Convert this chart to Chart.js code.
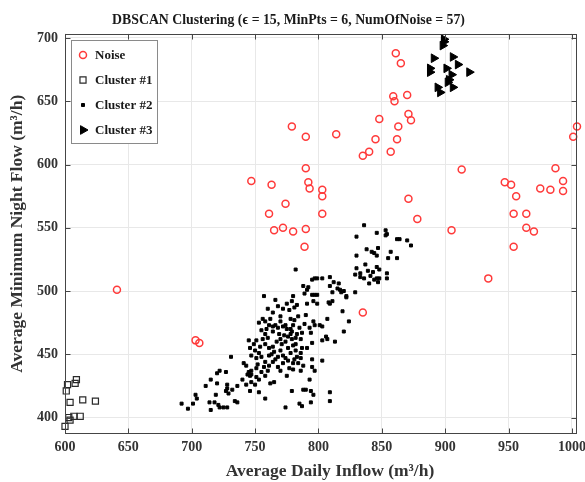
<!DOCTYPE html>
<html>
<head>
<meta charset="utf-8">
<script src="https://cdn.jsdelivr.net/npm/chart.js@4.4.1/dist/chart.umd.min.js"></script>
<style>
  html, body { margin: 0; padding: 0; background: #fff; }
</style>
</head>
<body>
<canvas id="chart" width="585" height="482"></canvas>
<script>
// --- data ---
const seriesNames = ['Noise', 'Cluster #1', 'Cluster #2', 'Cluster #3'];
const xTicks = [600, 650, 700, 750, 800, 850, 900, 950, 1000];
const yTicks = [400, 450, 500, 550, 600, 650, 700];
const xLabel = 'Average Daily Inflow (m³/h)';
const yLabel = 'Average Minimum Night Flow (m³/h)';

const noisePts = [
  [861,688],[865,680],[859,654],[860,650],[870,655],[848,636],[871,640],[873,635],[863,630],
  [779,630],[790,622],[814,624],[845,620],[862,620],[835,607],[840,610],[857,610],[790,597],
  [1004,630],[1001,622],[913,596],[987,597],
  [747,587],[763,584],[792,586],[793,581],[803,580],[803,575],[774,569],[761,561],[803,561],
  [765,548],[772,550],[780,547],[790,549],[789,535],[871,573],[878,557],[835,483],
  [947,586],[952,584],[956,575],[975,581],[983,580],[993,587],[993,579],[954,561],[964,561],
  [964,550],[970,547],[905,548],[954,535],[934,510],
  [641,501],[703,461],[706,459]
];

const cluster1Pts = [
  [609,430],[608,427],[602,426],[601,421],[604,412],[614,414],[624,413],
  [612,401],[607,401],[603,400],[604,398],[600,393]
];

const cluster2Pts = [
  // left tail
  [692,411],[697,407],[701,411],[703,418],[704,415],[711,425],[715,430],[720,435],[722,437],
  [727,436],[731,448],[720,427],[719,418],[714,412],[718,412],[715,406],[721,410],[722,408],
  [725,408],[728,408],[727,421],[728,426],[728,423],[729,419],[732,422],[736,425],[734,413],
  [736,412],[741,443],[743,441],[745,436],[744,434],[747,434],[746,421],[745,461],[746,455],
  // core
  [757,496],[766,493],[777,485],[764,483],[772,486],[756,478],[758,476],[761,473],[764,472],
  [766,473],[768,471],[772,472],[774,473],[775,470],[755,469],[758,466],[764,468],[769,466],
  [773,465],[776,464],[756,462],[751,461],[749,458],[750,453],[754,456],[758,458],[761,455],
  [764,456],[767,460],[771,458],[774,460],[776,455],[747,449],[751,447],[755,448],[761,449],
  [765,452],[768,448],[772,449],[776,445],[747,437],[751,439],[757,440],[761,441],[764,444],
  [768,440],[772,443],[777,439],[746,433],[751,432],[755,436],[758,433],[747,428],[750,426],
  [753,430],[762,427],[765,428],[774,408],
  [760,486],[768,488],[775,490],[781,487],[770,480],[762,478],[753,475],[778,478],[784,480],
  [770,476],[759,470],[780,473],[785,471],[760,463],[770,462],[778,466],[786,462],[753,451],
  [763,450],[770,453],[778,451],[782,458],[791,455],[758,444],[766,446],[774,447],[781,446],
  [752,442],[760,437],[770,437],[775,433],[740,430],[743,426],[753,420],[758,415],
  // upper right group
  [836,552],[846,546],[853,548],[854,545],[853,544],[830,543],[862,541],[864,541],[870,540],
  [873,536],[838,533],[842,531],[844,530],[847,534],[846,528],[830,528],[857,531],[855,526],
  [862,526],[837,521],[846,519],[848,517],[830,518],[829,513],[833,514],[839,516],[843,515],
  [836,510],[841,512],[840,506],[844,509],[846,510],[847,507],[848,510],[854,514],[854,510],
  [833,511],
  // middle
  [782,517],[799,510],[803,510],[809,511],[795,509],[797,510],[812,507],[816,506],[815,502],
  [817,501],[820,500],[818,499],[788,504],[792,503],[791,501],[809,504],[811,499],[789,498],
  [795,497],[797,497],[799,497],[780,496],[829,499],[822,496],[779,492],[783,489],[791,490],
  [796,492],[799,490],[808,491],[811,492],[809,490],[822,495],[819,484],[824,476],[820,468],
  [807,478],[790,481],[781,477],[789,474],[796,476],[797,473],[801,473],[803,472],[793,471],
  [794,467],[778,470],[779,468],[783,466],[787,467],[779,462],[782,463],[795,459],[803,461],
  [807,462],[813,460],[806,464],[780,457],[782,453],[787,455],[786,451],[783,448],[786,447],
  [795,446],[803,445],[780,443],[784,443],[788,441],[795,440],[797,437],[780,438],[786,437],
  [793,430],[788,422],[790,422],[779,421],[794,421],[796,418],[809,420],[809,413],[785,411],
  [787,409],[794,412]
];

const cluster3Pts = [
  [899,699],[899,697],[898,694],[891,684],[906,685],[910,679],[888,676],[888,673],[901,676],
  [919,673],[905,671],[903,667],[902,665],[894,661],[896,657],[906,661]
];

const toXY = pts => pts.map(p => ({ x: p[0], y: p[1] }));
const SERIF = "'Liberation Serif', 'Times New Roman', serif";

// --- caja, marcas hacia dentro, etiqueta X y leyenda dentro del area ---
const boxPlugin = {
  id: 'boxPlugin',
  afterDraw(chart) {
    const { ctx, chartArea: a, scales } = chart;
    const L = Math.round(a.left) + 0.5, R = Math.round(a.right) - 0.5;
    const T = Math.round(a.top) + 0.5, B = Math.round(a.bottom) - 0.5;
    ctx.save();
    ctx.strokeStyle = '#454545';
    ctx.lineWidth = 1;
    ctx.beginPath();
    xTicks.forEach(v => {
      const px = Math.round(scales.x.getPixelForValue(v)) + 0.5;
      ctx.moveTo(px, B); ctx.lineTo(px, B - 5);
      ctx.moveTo(px, T); ctx.lineTo(px, T + 5);
    });
    yTicks.forEach(v => {
      const py = Math.round(scales.y.getPixelForValue(v)) + 0.5;
      ctx.moveTo(L, py); ctx.lineTo(L + 5, py);
      ctx.moveTo(R, py); ctx.lineTo(R - 5, py);
    });
    ctx.stroke();
    ctx.strokeRect(L, T, R - L, B - T);

    // etiqueta eje X (en el original queda algo a la derecha del centro)
    ctx.fillStyle = '#333';
    ctx.font = 'bold 17.5px ' + SERIF;
    ctx.textAlign = 'center';
    ctx.textBaseline = 'middle';
    ctx.fillText(xLabel, (a.left + a.right) / 2 + 9, 471);

    // leyenda
    const lx = 71.5, ly = 40.5, lw = 86, lh = 103;
    ctx.fillStyle = '#fff';
    ctx.fillRect(lx, ly, lw, lh);
    ctx.strokeStyle = '#8a8a8a';
    ctx.strokeRect(lx, ly, lw, lh);
    ctx.font = 'bold 13px ' + SERIF;
    ctx.textAlign = 'left';
    chart.data.datasets.forEach((ds, i) => {
      const my = 55 + i * 25, mx = 83;
      ctx.save();
      ctx.lineWidth = ds.borderWidth;
      ctx.strokeStyle = ds.borderColor;
      ctx.fillStyle = ds.backgroundColor;
      ctx.beginPath();
      if (ds.pointStyle === 'circle') {
        ctx.arc(mx, my, ds.pointRadius, 0, Math.PI * 2);
      } else if (ds.pointStyle === 'rect') {
        const s = Math.SQRT1_2 * ds.pointRadius;
        ctx.rect(mx - s, my - s, 2 * s, 2 * s);
      } else {
        const r = ds.pointRadius;
        ctx.moveTo(mx + r, my);
        ctx.lineTo(mx - r / 2, my - r * 0.866);
        ctx.lineTo(mx - r / 2, my + r * 0.866);
        ctx.closePath();
      }
      ctx.fill();
      ctx.stroke();
      ctx.restore();
      ctx.fillStyle = '#1a1a1a';
      ctx.fillText(ds.label, 95, my + 1);
    });
    ctx.restore();
  }
};

new Chart(document.getElementById('chart'), {
  type: 'scatter',
  data: {
    datasets: [
      { label: seriesNames[0], data: toXY(noisePts), pointStyle: 'circle', pointRadius: 3.5, clip: false,
        borderColor: '#ff3a3a', backgroundColor: 'rgba(255,255,255,0)', borderWidth: 1.5 },
      { label: seriesNames[1], data: toXY(cluster1Pts), pointStyle: 'rect', pointRadius: 4.3, clip: false,
        borderColor: '#2a2a2a', backgroundColor: 'rgba(255,255,255,0)', borderWidth: 1.2 },
      { label: seriesNames[2], data: toXY(cluster2Pts), pointStyle: 'rect', pointRadius: 2.1, clip: false,
        borderColor: '#000', backgroundColor: '#000', borderWidth: 1 },
      { label: seriesNames[3], data: toXY(cluster3Pts), pointStyle: 'triangle', pointRadius: 5, clip: false,
        rotation: 90, borderColor: '#000', backgroundColor: '#000', borderWidth: 1 }
    ]
  },
  options: {
    responsive: false,
    animation: false,
    events: [],
    layout: { padding: { left: 0, right: 8, top: 0, bottom: 0 } },
    scales: {
      x: {
        type: 'linear', min: 600, max: 1004,
        afterBuildTicks: s => { s.ticks = xTicks.map(v => ({ value: v })); },
        afterFit: s => { s.height = 48; s.paddingLeft = 0; s.paddingRight = 0; },
        grid: { color: '#e8e8e8', drawTicks: false },
        border: { display: false },
        ticks: { padding: 5, color: '#333', maxRotation: 0, callback: v => String(v),
                 font: { family: SERIF, size: 14, weight: 'bold' } },
        title: { display: false }
      },
      y: {
        type: 'linear', min: 387, max: 703.5,
        afterBuildTicks: s => { s.ticks = yTicks.map(v => ({ value: v })); },
        afterFit: s => { s.width = 65; s.paddingTop = 0; s.paddingBottom = 0; },
        grid: { color: '#e8e8e8', drawTicks: false },
        border: { display: false },
        ticks: { padding: 7, color: '#333', callback: v => String(v),
                 font: { family: SERIF, size: 14, weight: 'bold' } },
        title: { display: true, text: yLabel, color: '#333',
                 font: { family: SERIF, size: 17.5, weight: 'bold' }, padding: { top: 7, bottom: 0 } }
      }
    },
    plugins: {
      legend: { display: false },
      tooltip: { enabled: false },
      title: {
        display: true,
        text: 'DBSCAN Clustering (ϵ = 15, MinPts = 6, NumOfNoise = 57)',
        color: '#1a1a1a',
        font: { family: SERIF, size: 13.8, weight: 'bold' },
        padding: { top: 12, bottom: 5 }
      }
    }
  },
  plugins: [boxPlugin]
});
</script>
</body>
</html>
